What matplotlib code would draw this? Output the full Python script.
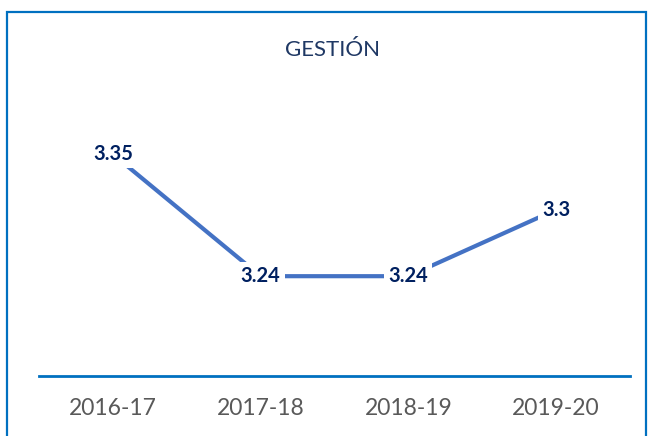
import matplotlib.pyplot as plt
from matplotlib.patches import Rectangle

years = ["2016-17", "2017-18", "2018-19", "2019-20"]
scores = [3.35, 3.24, 3.24, 3.3]
score_labels = ["3.35", "3.24", "3.24", "3.3"]

plt.rcParams["font.family"] = ["Lato", "DejaVu Sans"]

W, H = 651, 436
fig = plt.figure(figsize=(W / 100, H / 100), dpi=100)

# chart frame (bottom edge cut off in the original)
fig.patches.append(Rectangle((7 / W, -0.05), 639 / W, (H - 12) / H + 0.05,
                             transform=fig.transFigure, fill=False,
                             edgecolor="#0070C0", linewidth=1.6))

ax = fig.add_axes([39 / W, (H - 376) / H, 591 / W, 277 / H])
x = list(range(len(years)))
ax.plot(x, scores, color="#4472C4", linewidth=3, solid_capstyle="butt")
for xi, v, s in zip(x, scores, score_labels):
    ax.text(xi, v, s, ha="center", va="center", fontsize=14.5, fontweight="bold",
            color="#002060",
            bbox=dict(facecolor="white", edgecolor="none", pad=3))

ax.set_xlim(-0.5, 3.5)
ax.set_ylim(3.15, 3.15 + 277 / 1109)
ax.set_xticks(x)
ax.set_xticklabels(years, fontsize=16.5, color="#595959")
ax.tick_params(axis="x", length=0, pad=16)
ax.set_yticks([])
for side in ["top", "left", "right"]:
    ax.spines[side].set_visible(False)
ax.spines["bottom"].set_color("#0070C0")
ax.spines["bottom"].set_linewidth(2)

fig.text(333 / W, 1 - 50 / H, "GESTIÓN", ha="center", va="center",
         fontsize=16, color="#1F3864")

fig.savefig("out.png", dpi=100)
